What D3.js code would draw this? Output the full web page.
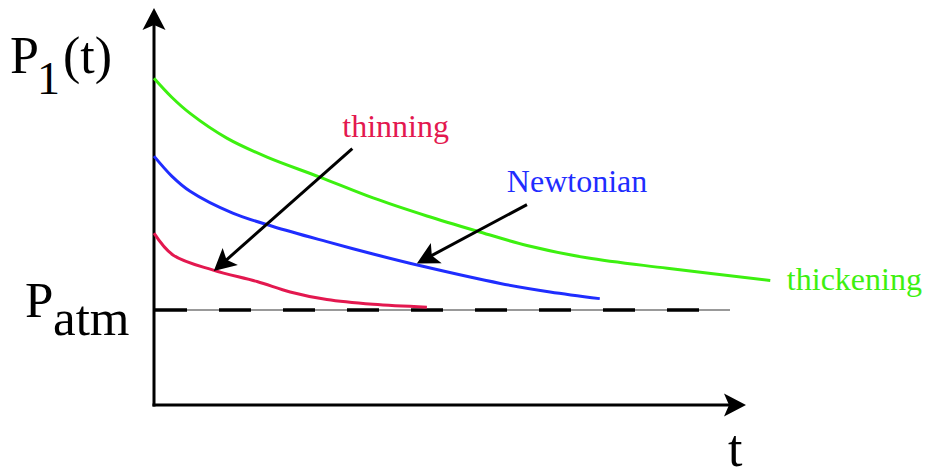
<!DOCTYPE html>
<html><head><meta charset="utf-8">
<script src="https://cdn.jsdelivr.net/npm/d3@7"></script>
<style>html,body{margin:0;padding:0;background:#fff}svg{display:block}text{font-family:"Liberation Serif",serif}</style>
</head><body>
<svg id="c" width="926" height="472"></svg>
<script>
// ---- data (chart units: t along x, pressure along y; Patm = 1) ----
const thickeningT = [0, 0.30, 0.61, 1.23, 1.91, 2.80, 3.70, 4.61, 5.46, 6.30, 7.31, 8.67, 10.41];
const thickeningP = [3.44, 3.24, 3.07, 2.81, 2.61, 2.40, 2.18, 1.99, 1.83, 1.68, 1.55, 1.44, 1.31];
const newtonianT  = [0, 0.30, 0.61, 1.33, 2.01, 2.92, 3.70, 4.54, 5.85, 6.69, 7.53];
const newtonianP  = [2.62, 2.41, 2.25, 2.02, 1.88, 1.72, 1.59, 1.46, 1.28, 1.19, 1.12];
const thinningT   = [0, 0.32, 1.00, 1.74, 2.30, 2.92, 3.70, 4.61];
const thinningP   = [1.81, 1.58, 1.42, 1.30, 1.19, 1.11, 1.06, 1.03];
const patmValue = 1;
const patmLineEnd = 9.73;
const seriesNames = ["thickening", "Newtonian", "thinning"];
const seriesColors = ["#3df010", "#1f2dff", "#e3184f"];
const labelT = [10.69, 5.96, 3.18];
const labelP = [1.21, 2.24, 2.82];
// annotation arrows [fromT, fromP] -> [toT, toP]
const arrowFrom = [[3.35, 2.70], [6.30, 2.11]];
const arrowTo   = [[1.01, 1.41], [4.44, 1.49]];

const svg = d3.select("#c");
const x = d3.scaleLinear().domain([0, 10]).range([154, 746]);
const y = d3.scaleLinear().domain([0, 4.18]).range([405, 8]);
const font = "'Liberation Serif', serif";

function arrowHead(x1, y1, x2, y2, L = 22, W = 11.5, N = 5) {
  const dx = x2 - x1, dy = y2 - y1, d = Math.hypot(dx, dy);
  const ux = dx / d, uy = dy / d, px = -uy, py = ux;
  const bx = x2 - ux * L, by = y2 - uy * L;
  return `M${x2},${y2}L${bx + px * W},${by + py * W}L${x2 - ux * (L - N)},${y2 - uy * (L - N)}L${bx - px * W},${by - py * W}Z`;
}

// Patm reference line
svg.append("line").attr("x1", x(0)).attr("x2", x(patmLineEnd)).attr("y1", y(patmValue)).attr("y2", y(patmValue))
  .attr("stroke", "#777").attr("stroke-width", 1.5);
svg.append("line").attr("x1", x(0) + 1).attr("x2", x(patmLineEnd)).attr("y1", y(patmValue)).attr("y2", y(patmValue))
  .attr("stroke", "#000").attr("stroke-width", 3.5).attr("stroke-dasharray", "32 32");

// axes
const x0 = x(0), y0 = y(0);
svg.append("line").attr("x1", x0).attr("y1", y0 + 1.5).attr("x2", x0).attr("y2", y(4.18) + 12)
  .attr("stroke", "#000").attr("stroke-width", 3);
svg.append("path").attr("d", arrowHead(x0, y0, x0, y(4.18))).attr("fill", "#000");
svg.append("line").attr("x1", x0 - 1.5).attr("y1", y0).attr("x2", x(10) - 12).attr("y2", y0)
  .attr("stroke", "#000").attr("stroke-width", 3);
svg.append("path").attr("d", arrowHead(x0, y0, x(10), y0)).attr("fill", "#000");

// curves
const line = d3.line().x(d => x(d[0])).y(d => y(d[1])).curve(d3.curveCatmullRom.alpha(0.5));
const series = [
  d3.zip(thickeningT, thickeningP),
  d3.zip(newtonianT, newtonianP),
  d3.zip(thinningT, thinningP)
];
series.forEach((s, i) => {
  svg.append("path").attr("d", line(s)).attr("fill", "none")
    .attr("stroke", seriesColors[i]).attr("stroke-width", 3).attr("stroke-linecap", "butt");
});

// annotation arrows
arrowFrom.forEach((f, i) => {
  const t = arrowTo[i];
  const X1 = x(f[0]), Y1 = y(f[1]), X2 = x(t[0]), Y2 = y(t[1]);
  const d = Math.hypot(X2 - X1, Y2 - Y1);
  svg.append("line").attr("x1", X1).attr("y1", Y1)
    .attr("x2", X2 - (X2 - X1) / d * 14).attr("y2", Y2 - (Y2 - Y1) / d * 14)
    .attr("stroke", "#000").attr("stroke-width", 3);
  svg.append("path").attr("d", arrowHead(X1, Y1, X2, Y2)).attr("fill", "#000");
});

// series labels
seriesNames.forEach((n, i) => {
  svg.append("text").attr("x", x(labelT[i])).attr("y", y(labelP[i]))
    .style("font-family", font).attr("font-size", 32).attr("fill", seriesColors[i]).text(n);
});

// axis labels
const labels = [
  { t: "P", x: 10, y: 73, s: 52 },
  { t: "1", x: 37, y: 94, s: 46 },
  { t: "(t)", x: 63, y: 73, s: 52 },
  { t: "P", x: 25, y: 317, s: 51 },
  { t: "atm", x: 53, y: 335, s: 51 },
  { t: "t", x: 728, y: 466, s: 52 }
];
labels.forEach(l => {
  svg.append("text").attr("x", l.x).attr("y", l.y).style("font-family", font)
    .attr("font-size", l.s).attr("fill", "#000").text(l.t);
});
</script>
</body></html>
